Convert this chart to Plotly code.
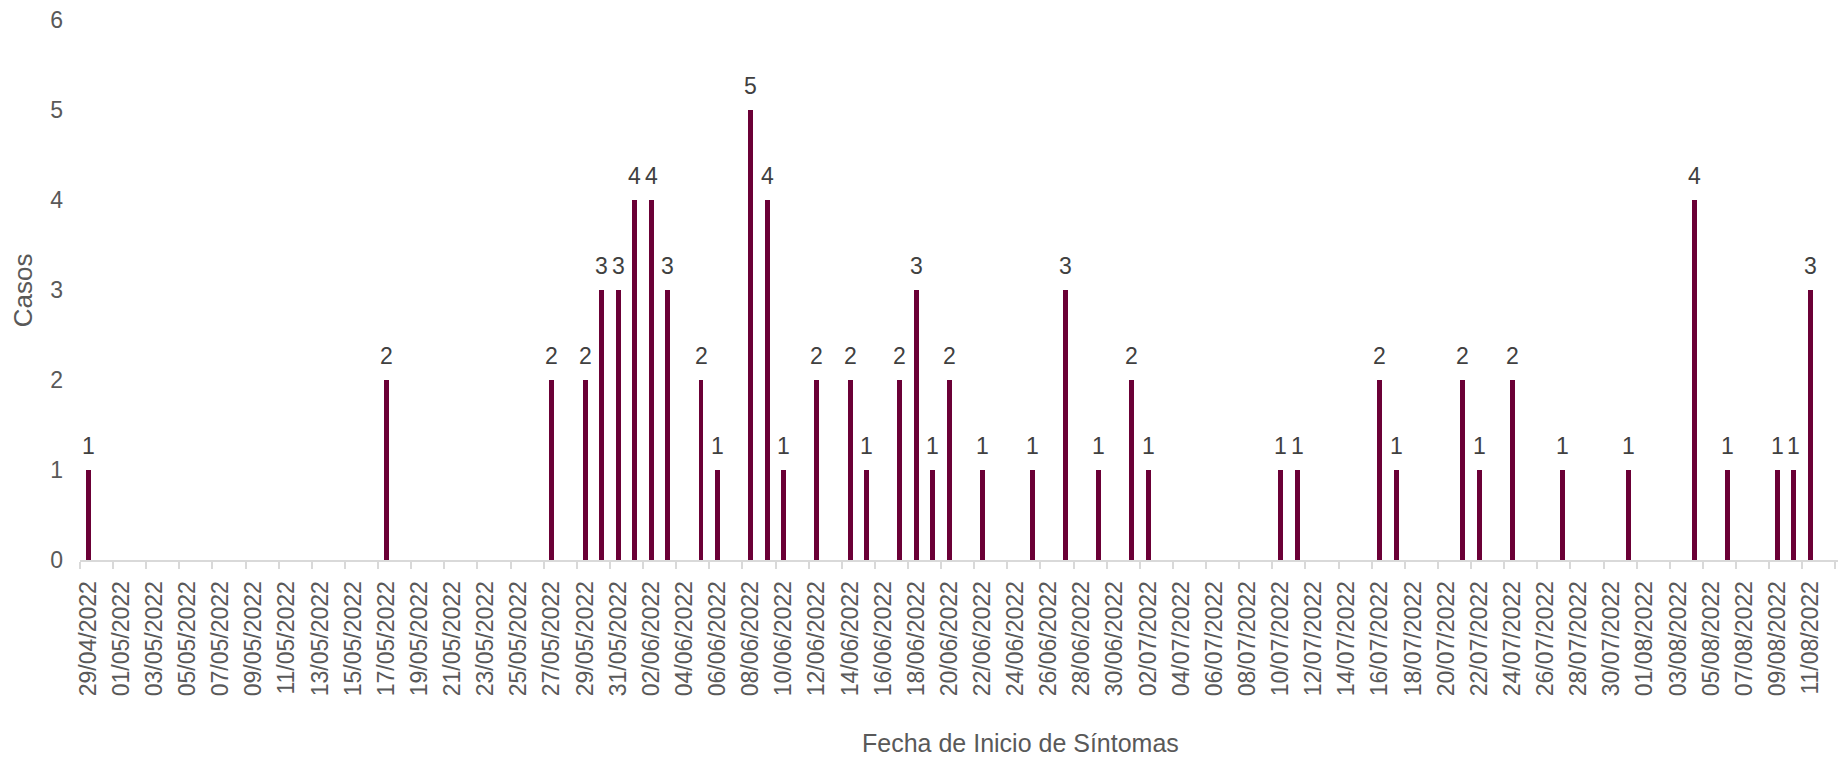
import plotly.graph_objects as go

# Data
fechas = ["2022-04-29", "2022-05-17", "2022-05-27", "2022-05-29", "2022-05-30",
          "2022-05-31", "2022-06-01", "2022-06-02", "2022-06-03", "2022-06-05",
          "2022-06-06", "2022-06-08", "2022-06-09", "2022-06-10", "2022-06-12",
          "2022-06-14", "2022-06-15", "2022-06-17", "2022-06-18", "2022-06-19",
          "2022-06-20", "2022-06-22", "2022-06-25", "2022-06-27", "2022-06-29",
          "2022-07-01", "2022-07-02", "2022-07-10", "2022-07-11", "2022-07-16",
          "2022-07-17", "2022-07-21", "2022-07-22", "2022-07-24", "2022-07-27",
          "2022-07-31", "2022-08-04", "2022-08-06", "2022-08-09", "2022-08-10",
          "2022-08-11"]
casos = [1, 2, 2, 2, 3,
         3, 4, 4, 3, 2,
         1, 5, 4, 1, 2,
         2, 1, 2, 3, 1,
         2, 1, 1, 3, 1,
         2, 1, 1, 1, 2,
         1, 2, 1, 2, 1,
         1, 4, 1, 1, 1,
         3]

x_title = "Fecha de Inicio de Síntomas"
y_title = "Casos"
y_ticks = [0, 1, 2, 3, 4, 5, 6]

BAR_COLOR = "#6b0036"
TICK_COLOR = "#595959"
LABEL_COLOR = "#404040"
FONT = "Arial, Liberation Sans, sans-serif"
DAY_MS = 86400000

fig = go.Figure()
fig.add_trace(go.Bar(
    x=fechas, y=casos,
    width=0.3 * DAY_MS,
    marker=dict(color=BAR_COLOR, line=dict(width=0)),
    hoverinfo="x+y",
))

annotations = []
for f, c in zip(fechas, casos):
    annotations.append(dict(
        x=f, y=c, xref="x", yref="y", text=str(c), showarrow=False,
        yanchor="middle", xanchor="center", yshift=24,
        font=dict(family=FONT, size=23, color=LABEL_COLOR),
    ))

annotations.append(dict(
    x=0.5347, y=-0.338, xref="paper", yref="paper", text=x_title,
    showarrow=False, xanchor="center", yanchor="middle",
    font=dict(family=FONT, size=25, color=TICK_COLOR),
))
annotations.append(dict(
    x=-0.0323, y=0.5, xref="paper", yref="paper", text=y_title,
    showarrow=False, xanchor="center", yanchor="middle", textangle=-90,
    font=dict(family=FONT, size=26, color=TICK_COLOR),
))

fig.update_layout(
    width=1838, height=759,
    margin=dict(l=80, r=0, t=20, b=199),
    paper_bgcolor="white", plot_bgcolor="white",
    showlegend=False,
    bargap=0,
    annotations=annotations,
    font=dict(family=FONT, color=TICK_COLOR),
    xaxis=dict(
        type="date", automargin=False,
        range=["2022-04-28 12:00", "2022-08-12 15:50"],
        tickmode="linear", tick0="2022-04-29", dtick=2 * DAY_MS,
        tickformat="%d/%m/%Y", tickangle=-90,
        tickfont=dict(family=FONT, size=23, color=TICK_COLOR),
        ticks="", showgrid=False, zeroline=False,
        showline=True, linecolor="#d9d9d9", linewidth=2,
        ticklabelstandoff=10,
        minor=dict(ticks="outside", tickmode="linear",
                   tick0="2022-04-28 12:00", dtick=2 * DAY_MS,
                   ticklen=7, tickwidth=2, tickcolor="#d9d9d9",
                   showgrid=False),
    ),
    yaxis=dict(
        range=[0, 6], tickmode="array", tickvals=y_ticks, automargin=False,
        tickfont=dict(family=FONT, size=23, color=TICK_COLOR),
        ticks="", showgrid=False, zeroline=False, showline=False,
        ticklabelstandoff=16,
    ),
)

fig.write_html(
    "out.html",
    config={"displayModeBar": False},
    post_script="document.body.style.margin='0';document.body.style.overflow='hidden';",
)
